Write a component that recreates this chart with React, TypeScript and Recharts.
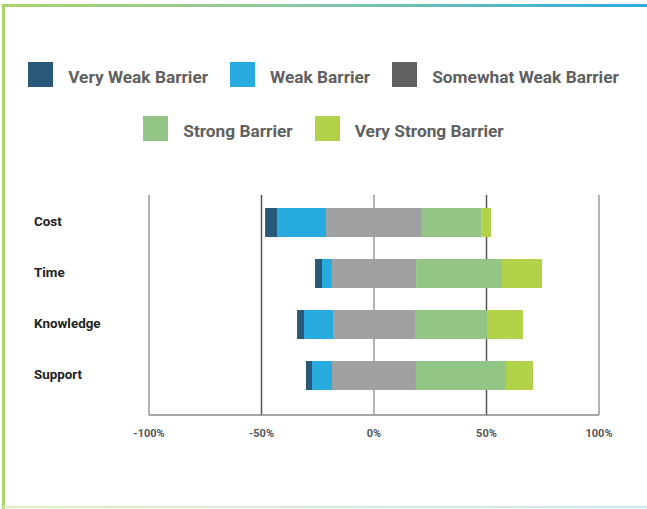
import { Bar, BarChart, CartesianGrid, XAxis, YAxis } from "recharts";

const categories = ["Cost", "Time", "Knowledge", "Support"];
const veryWeak = [5.3, 3.1, 3.1, 2.7];
const weak = [21.8, 4.4, 12.9, 8.9];
const somewhatWeak = [42.6, 37.4, 36.4, 37.3];
const strong = [26.3, 38.2, 32, 40];
const veryStrong = [4.4, 17.8, 16, 12];
const xTicks = [-100, -50, 0, 50, 100];
const darkGridValues = [-50, 50];
const lightGridValues = [-100, 0, 100];

// "somewhat weak" is centred on zero, so it is split into two halves
const rows = categories.map((name, i) => ({
  name,
  swNeg: -somewhatWeak[i] / 2,
  weak: -weak[i],
  veryWeak: -veryWeak[i],
  swPos: somewhatWeak[i] / 2,
  strong: strong[i],
  veryStrong: veryStrong[i],
}));

const legendRow1 = [
  { label: "Very Weak Barrier", color: "#2a5878" },
  { label: "Weak Barrier", color: "#27aadd" },
  { label: "Somewhat Weak Barrier", color: "#606060" },
];
const legendRow2 = [
  { label: "Strong Barrier", color: "#93c686" },
  { label: "Very Strong Barrier", color: "#b2d249" },
];

const FONT = "Roboto, 'DejaVu Sans', sans-serif";

function LegendRow({ items, top }: { items: { label: string; color: string }[]; top: number }) {
  return (
    <div
      style={{
        position: "absolute",
        top,
        left: 0,
        width: 647,
        height: 25,
        display: "flex",
        justifyContent: "center",
        alignItems: "center",
        gap: 22,
      }}
    >
      {items.map((it) => (
        <div key={it.label} style={{ display: "flex", alignItems: "center" }}>
          <div style={{ width: 25, height: 25, background: it.color, marginRight: 15 }} />
          <span
            style={{
              fontFamily: FONT,
              fontWeight: 700,
              fontSize: 17.3,
              color: "#606060",
              position: "relative",
              top: 2,
            }}
          >
            {it.label}
          </span>
        </div>
      ))}
    </div>
  );
}

const CategoryTick = (props: any) => {
  const { y, payload } = props;
  return (
    <text
      x={34}
      y={y}
      dy={3}
      textAnchor="start"
      fontFamily={FONT}
      fontWeight={700}
      fontSize={13.4}
      fill="#222222"
    >
      {payload.value}
    </text>
  );
};

export default function App() {
  return (
    <div style={{ position: "absolute", left: 0, top: 0, width: 647, height: 509, background: "#fff" }}>
      <div
        style={{
          position: "absolute",
          left: 3,
          top: 4,
          width: 644,
          height: 3,
          background: "linear-gradient(to right, #a9d46c, #8cc7a0 45%, #29abe2)",
        }}
      />
      <div style={{ position: "absolute", left: 2, top: 4, width: 3, height: 505, background: "#a9d46c" }} />
      <div
        style={{
          position: "absolute",
          left: 3,
          top: 506,
          width: 644,
          height: 2,
          background: "linear-gradient(to right, #dcefc4, #cde7ef)",
        }}
      />
      <LegendRow items={legendRow1} top={62} />
      <LegendRow items={legendRow2} top={116} />
      <div style={{ position: "absolute", left: 0, top: 0 }}>
        <BarChart
          width={647}
          height={509}
          data={rows}
          layout="vertical"
          stackOffset="sign"
          margin={{ top: 195, right: 48, bottom: 64, left: 0 }}
        >
          <CartesianGrid horizontal={false} verticalValues={lightGridValues} stroke="#9a9a9a" strokeWidth={1.5} />
          <CartesianGrid horizontal={false} verticalValues={darkGridValues} stroke="#555555" strokeWidth={1.5} />
          <XAxis
            type="number"
            domain={[-100, 100]}
            ticks={xTicks}
            tickFormatter={(v: number) => `${v}%`}
            axisLine={{ stroke: "#888888", strokeWidth: 1.5 }}
            tickLine={false}
            tickSize={0}
            tickMargin={14}
            tick={{ fontFamily: FONT, fontWeight: 700, fontSize: 11, fill: "#555555" }}
          />
          <YAxis
            type="category"
            dataKey="name"
            width={149}
            axisLine={false}
            tickLine={false}
            padding={{ top: 2, bottom: 14 }}
            tick={<CategoryTick />}
          />
          <Bar dataKey="swNeg" stackId="a" fill="#a0a0a0" barSize={29} isAnimationActive={false} />
          <Bar dataKey="weak" stackId="a" fill="#27aadd" barSize={29} isAnimationActive={false} />
          <Bar dataKey="veryWeak" stackId="a" fill="#2a5878" barSize={29} isAnimationActive={false} />
          <Bar dataKey="swPos" stackId="a" fill="#a0a0a0" barSize={29} isAnimationActive={false} />
          <Bar dataKey="strong" stackId="a" fill="#93c686" barSize={29} isAnimationActive={false} />
          <Bar dataKey="veryStrong" stackId="a" fill="#b2d249" barSize={29} isAnimationActive={false} />
        </BarChart>
      </div>
    </div>
  );
}
